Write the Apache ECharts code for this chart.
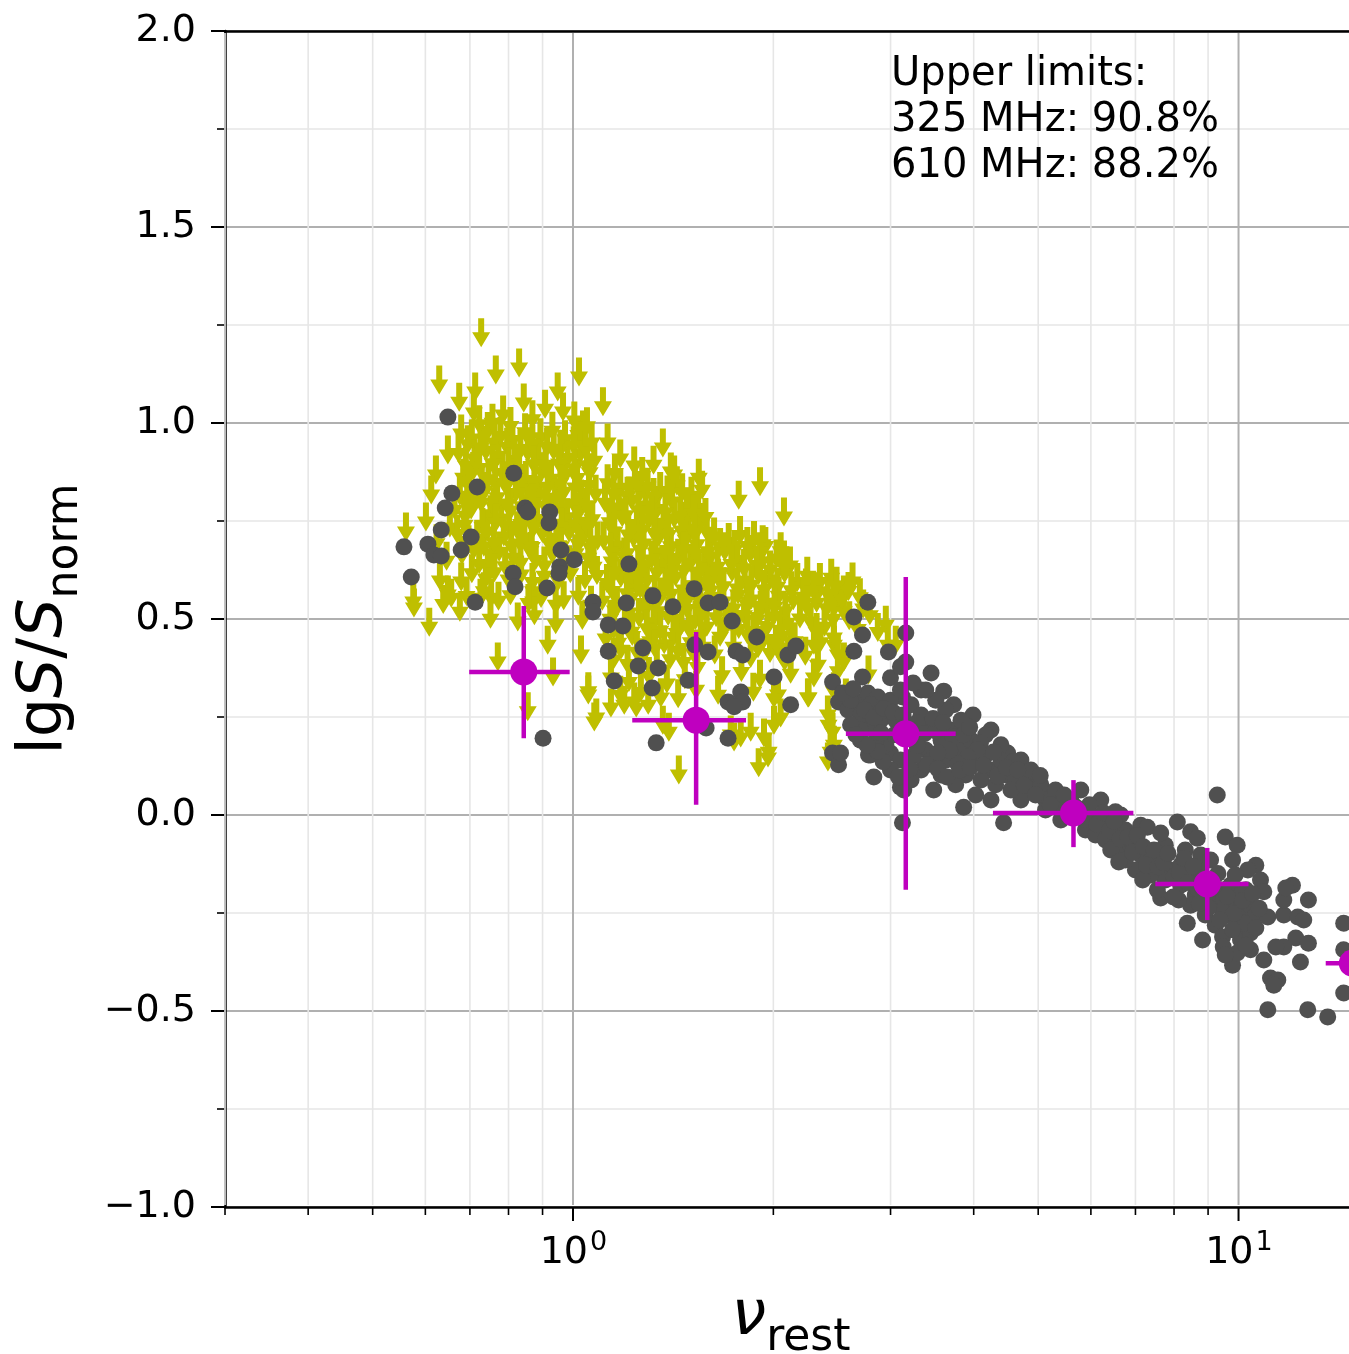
<!DOCTYPE html>
<html>
<head>
<meta charset="utf-8">
<script src="https://cdn.jsdelivr.net/npm/echarts@6/dist/echarts.min.js"></script>
<style>
html, body { margin: 0; padding: 0; background: #fff; }
#chart { width: 1349px; height: 1354px; }
</style>
</head>
<body>
<div id="chart"></div>
<script>
// x = lg(nu_rest), y = lg(S/S_norm)

// Upper limits (non-detections), drawn as downward arrows
const upperLimits = [
  [-0.138,1.230],[-0.081,1.153],[-0.116,1.135],[0.009,1.130],[-0.201,1.110],[-0.147,1.092],[-0.171,1.066],[-0.074,1.064],
  [-0.023,1.092],[0.045,1.054],[-0.105,1.033],[-0.015,1.041],[-0.149,1.038],[0.015,0.995],[0.135,0.949],[-0.188,0.931],
  [-0.206,0.880],[-0.213,0.829],[0.152,0.880],[-0.251,0.735],[-0.221,0.760],[-0.240,0.556],[-0.216,0.492],[-0.188,0.574],
  [-0.183,0.566],[-0.168,0.607],[0.147,0.888],[0.152,0.855],[0.189,0.872],[0.281,0.850],[0.249,0.816],[0.317,0.773],
  [0.167,0.753],[0.285,0.702],[0.312,0.684],[0.420,0.607],[0.350,0.592],[0.369,0.582],[0.395,0.548],[0.470,0.497],
  [0.159,0.115],[0.279,0.133],[0.293,0.158],[0.384,0.242],[0.032,0.250],[0.023,0.319],[0.057,0.286],[0.077,0.293],
  [0.095,0.286],[0.113,0.293],[0.132,0.311],[0.135,0.242],[0.144,0.224],[0.237,0.217],[0.252,0.209],[0.267,0.224],
  [0.302,0.242],[0.312,0.260],[0.353,0.311],[0.392,0.327],[0.398,0.378],[0.368,0.395],[0.362,0.446],[0.353,0.582],
  [0.392,0.556],[0.407,0.531],[0.473,0.446],[0.485,0.446],[0.392,0.446],[0.407,0.403],[0.362,0.362],[0.354,0.311],
  [0.444,0.370],[0.410,0.311],[0.383,0.268],[0.390,0.224],[0.392,0.191],[0.383,0.148],[-0.239,0.541],[-0.113,0.403],
  [-0.038,0.446],[-0.030,0.365],[-0.068,0.276],[0.012,0.421],[0.023,0.327],[0.035,0.260],[0.092,0.301],[0.317,0.663],
  [0.407,0.574],[0.392,0.464],[0.398,0.421],[0.308,0.319],[0.387,0.173],[0.294,0.173],[0.287,0.209],[0.242,0.199],
  [0.312,0.421],[0.327,0.454],
  [-0.134,0.582],[-0.123,0.566],[-0.060,0.556],[-0.128,0.643],[-0.060,0.582],[-0.026,0.548],
  [-0.205,0.705],[-0.190,0.660],[-0.200,0.610],[-0.185,0.745],[-0.178,0.790],[-0.195,0.550],[-0.160,0.570],[-0.170,0.530],
  [-0.168,0.985],[-0.152,0.972],[-0.128,0.991],[-0.109,0.978],[-0.091,0.968],[-0.072,0.988],[-0.049,0.975],[-0.031,0.992],[-0.012,0.970],[0.008,0.981],[0.028,0.962],
  [-0.172,0.935],[-0.148,0.921],[-0.131,0.940],[-0.112,0.928],[-0.088,0.917],[-0.068,0.936],[-0.052,0.924],[-0.029,0.941],[-0.008,0.922],[0.011,0.933],[0.032,0.915],
  [-0.165,0.872],[-0.150,0.889],[-0.127,0.868],[-0.106,0.884],[-0.093,0.873],[-0.071,0.866],[-0.047,0.887],[-0.033,0.869],[-0.011,0.882],[0.006,0.871],[0.025,0.886],
  [-0.170,0.826],[-0.146,0.818],[-0.133,0.838],[-0.114,0.822],[-0.086,0.833],[-0.069,0.815],[-0.051,0.829],[-0.027,0.821],[-0.014,0.836],[0.012,0.819],[0.034,0.831],
  [-0.162,0.775],[-0.153,0.791],[-0.124,0.779],[-0.108,0.768],[-0.094,0.788],[-0.066,0.772],[-0.054,0.764],[-0.035,0.785],[-0.009,0.771],[0.009,0.786],[0.029,0.766],
  [-0.174,0.728],[-0.144,0.716],[-0.129,0.735],[-0.104,0.722],[-0.084,0.738],[-0.073,0.718],[-0.046,0.731],[-0.025,0.719],[-0.006,0.733],[0.015,0.724],[0.037,0.712],
  [-0.167,0.675],[-0.149,0.689],[-0.122,0.671],[-0.111,0.683],[-0.089,0.668],[-0.064,0.685],[-0.056,0.662],[-0.031,0.678],[-0.013,0.664],[0.004,0.679],[0.023,0.668],
  [-0.152,0.628],[-0.131,0.615],[-0.118,0.631],[-0.097,0.612],[-0.078,0.625],[-0.061,0.606],[-0.043,0.622],[-0.022,0.609],[-0.004,0.628],[0.018,0.611],[0.036,0.624],
  [-0.139,0.566],[-0.112,0.558],[-0.094,0.572],[-0.067,0.552],[-0.048,0.565],[-0.014,0.559],[0.008,0.571],[0.027,0.548],
  [-0.124,0.512],[-0.083,0.505],[-0.058,0.521],[-0.026,0.498],[0.014,0.509],
  [-0.158,0.957],[-0.139,0.949],[-0.118,0.962],[-0.099,0.951],[-0.079,0.945],[-0.061,0.958],[-0.039,0.951],[-0.019,0.946],[0.001,0.955],[0.019,0.944],
  [-0.161,0.903],[-0.141,0.897],[-0.121,0.909],[-0.097,0.901],[-0.081,0.894],[-0.059,0.906],[-0.041,0.898],[-0.021,0.908],[0.002,0.896],[0.021,0.904],
  [-0.156,0.852],[-0.137,0.846],[-0.117,0.859],[-0.101,0.851],[-0.078,0.845],[-0.058,0.856],[-0.038,0.849],[-0.019,0.858],[0.003,0.847],[0.024,0.853],
  [-0.159,0.802],[-0.138,0.808],[-0.119,0.797],[-0.098,0.806],[-0.077,0.799],[-0.061,0.809],[-0.042,0.801],[-0.018,0.795],[0.001,0.806],[0.021,0.798],
  [-0.163,0.752],[-0.136,0.746],[-0.116,0.758],[-0.096,0.749],[-0.078,0.754],[-0.059,0.745],[-0.041,0.757],[-0.017,0.748],[0.004,0.753],[0.022,0.744],
  [-0.157,0.702],[-0.134,0.696],[-0.119,0.707],[-0.093,0.699],[-0.079,0.704],[-0.062,0.695],[-0.036,0.706],[-0.018,0.697],[0.008,0.703],[0.026,0.694],
  [-0.141,0.652],[-0.102,0.646],[-0.079,0.655],[-0.043,0.648],[-0.006,0.651],[0.031,0.645],
  [0.052,0.858],[0.071,0.846],[0.093,0.862],[0.112,0.849],[0.131,0.838],[0.156,0.852],[0.178,0.826],[0.194,0.841],
  [0.048,0.808],[0.069,0.796],[0.088,0.815],[0.109,0.801],[0.127,0.792],[0.149,0.811],[0.171,0.798],[0.188,0.786],
  [0.055,0.758],[0.074,0.771],[0.096,0.752],[0.114,0.764],[0.136,0.749],[0.152,0.768],[0.174,0.742],[0.192,0.759],
  [0.046,0.712],[0.067,0.699],[0.091,0.718],[0.106,0.704],[0.129,0.721],[0.147,0.697],[0.169,0.714],[0.186,0.702],
  [0.058,0.658],[0.077,0.671],[0.098,0.649],[0.118,0.663],[0.134,0.652],[0.158,0.668],[0.176,0.655],[0.197,0.647],
  [0.051,0.603],[0.072,0.617],[0.094,0.598],[0.111,0.611],[0.139,0.602],[0.154,0.619],[0.181,0.597],[0.199,0.608],
  [0.044,0.558],[0.066,0.547],[0.087,0.565],[0.108,0.552],[0.132,0.569],[0.161,0.548],[0.172,0.562],[0.191,0.555],
  [0.056,0.512],[0.078,0.498],[0.099,0.515],[0.121,0.503],[0.143,0.519],[0.163,0.496],[0.184,0.509],[0.201,0.492],
  [0.049,0.462],[0.068,0.451],[0.089,0.468],[0.116,0.455],[0.137,0.447],[0.151,0.466],[0.177,0.452],[0.195,0.441],
  [0.061,0.408],[0.082,0.397],[0.103,0.414],[0.126,0.391],[0.146,0.409],[0.166,0.402],[0.187,0.389],
  [0.057,0.362],[0.084,0.351],[0.114,0.366],[0.141,0.347],[0.168,0.358],[0.071,0.318],[0.102,0.325],[0.158,0.309],[0.185,0.331],
  [0.061,0.832],[0.082,0.826],[0.102,0.838],[0.121,0.823],[0.142,0.829],[0.164,0.835],
  [0.059,0.782],[0.079,0.776],[0.098,0.789],[0.118,0.778],[0.139,0.784],[0.161,0.775],[0.181,0.781],[0.199,0.772],
  [0.062,0.734],[0.083,0.727],[0.104,0.739],[0.122,0.731],[0.143,0.726],[0.163,0.737],[0.183,0.729],[0.201,0.734],
  [0.057,0.684],[0.081,0.679],[0.101,0.688],[0.124,0.681],[0.141,0.676],[0.166,0.687],[0.184,0.678],[0.203,0.684],
  [0.063,0.633],[0.086,0.627],[0.105,0.638],[0.126,0.631],[0.146,0.626],[0.167,0.637],[0.189,0.629],[0.207,0.634],
  [0.059,0.583],[0.081,0.577],[0.101,0.588],[0.123,0.581],[0.147,0.576],[0.166,0.587],[0.186,0.579],[0.206,0.584],
  [0.063,0.533],[0.084,0.528],[0.109,0.538],[0.127,0.531],[0.149,0.526],[0.171,0.537],[0.194,0.529],
  [0.061,0.484],[0.088,0.479],[0.111,0.488],[0.131,0.481],[0.156,0.476],[0.174,0.487],[0.192,0.472],
  [0.072,0.433],[0.096,0.428],[0.123,0.437],[0.158,0.431],[0.181,0.424],
  [0.212,0.722],[0.234,0.708],[0.251,0.726],[0.272,0.713],[0.289,0.698],
  [0.206,0.671],[0.228,0.684],[0.247,0.662],[0.266,0.677],[0.284,0.659],[0.306,0.666],[0.326,0.648],
  [0.218,0.617],[0.239,0.631],[0.258,0.609],[0.279,0.624],[0.297,0.612],[0.318,0.628],[0.337,0.606],
  [0.209,0.568],[0.226,0.556],[0.248,0.574],[0.268,0.561],[0.291,0.552],[0.309,0.571],[0.331,0.559],
  [0.215,0.516],[0.236,0.505],[0.257,0.521],[0.276,0.509],[0.301,0.518],[0.322,0.502],[0.341,0.513],
  [0.221,0.466],[0.262,0.472],[0.286,0.458],[0.314,0.469],[0.333,0.455],
  [0.213,0.421],[0.267,0.412],[0.296,0.425],[0.318,0.404],
  [0.224,0.368],[0.253,0.376],[0.281,0.359],[0.327,0.372],
  [0.218,0.318],[0.271,0.326],[0.302,0.309],
  [0.221,0.695],[0.243,0.689],[0.262,0.698],[0.281,0.684],
  [0.217,0.645],[0.238,0.652],[0.257,0.641],[0.276,0.649],[0.296,0.638],[0.317,0.645],
  [0.226,0.595],[0.247,0.589],[0.268,0.599],[0.287,0.587],[0.307,0.594],[0.328,0.585],
  [0.221,0.545],[0.241,0.538],[0.262,0.547],[0.282,0.535],[0.303,0.543],[0.319,0.531],
  [0.229,0.492],[0.249,0.486],[0.271,0.481],[0.292,0.492],[0.311,0.484],
  [0.241,0.441],[0.278,0.437],[0.305,0.446],
  [0.352,0.622],[0.371,0.606],[0.388,0.617],[0.346,0.568],[0.366,0.553],[0.381,0.539],[0.404,0.561],[0.357,0.505],
  [0.378,0.492],[0.415,0.508],[0.428,0.486],[0.446,0.521],[0.458,0.478],[0.372,0.452],[0.349,0.418],
  [0.361,0.585],[0.383,0.575],[0.396,0.596],[0.414,0.583],[0.431,0.567],[0.352,0.541],[0.391,0.512],[0.366,0.478],[0.436,0.538],
  [0.052,0.962],[0.071,0.921],[0.092,0.903],[0.063,0.884],[0.104,0.876],[0.121,0.905],[-0.061,1.021],[-0.042,1.048],
  [0.002,1.018],[0.021,1.003],[-0.094,1.004],[-0.121,1.012],[-0.141,1.008]
];

// Detections, drawn as grey dots
const detections = [
  [-0.188,1.015],[-0.089,0.872],[-0.144,0.837],[-0.182,0.821],[-0.192,0.783],[-0.072,0.783],[-0.068,0.773],[-0.035,0.773],
  [-0.036,0.745],[-0.198,0.727],[-0.153,0.709],[-0.254,0.684],[-0.218,0.691],[-0.209,0.663],[-0.198,0.661],[-0.168,0.676],
  [-0.018,0.676],[0.002,0.651],[-0.020,0.633],[-0.021,0.617],[-0.243,0.607],[-0.090,0.617],[-0.087,0.582],[-0.039,0.579],
  [0.084,0.640],[-0.147,0.543],[0.030,0.543],[0.030,0.518],[0.080,0.541],[0.120,0.559],[0.150,0.531],[0.053,0.485],
  [0.075,0.482],[0.182,0.577],[0.203,0.541],[0.221,0.543],[0.239,0.495],[0.053,0.418],[0.105,0.426],[0.098,0.380],
  [0.128,0.375],[0.062,0.342],[0.119,0.324],[0.183,0.434],[0.203,0.416],[0.245,0.418],[0.255,0.408],[0.276,0.454],
  [0.173,0.344],[0.302,0.352],[0.323,0.408],[0.335,0.431],[0.233,0.288],[0.252,0.314],[0.255,0.288],[0.242,0.276],
  [0.327,0.281],[0.125,0.184],[0.233,0.196],[0.200,0.222],[-0.045,0.196],
  [0.390,0.339],[0.422,0.505],[0.443,0.543],[0.435,0.459],[0.422,0.418],[0.474,0.416],[0.500,0.464],[0.500,0.390],
  [0.435,0.352],[0.477,0.350],[0.538,0.362],[0.557,0.316],[0.523,0.319],[0.399,0.288],[0.413,0.268],[0.428,0.288],
  [0.443,0.311],[0.458,0.301],[0.432,0.242],[0.447,0.222],[0.462,0.242],[0.432,0.191],[0.447,0.153],[0.452,0.097],
  [0.477,0.158],[0.492,0.071],[0.495,0.301],[0.492,0.378],[0.390,0.158],[0.399,0.128],[0.402,0.158],[0.572,0.281],
  [0.601,0.255],[0.628,0.217],[0.653,0.158],[0.673,0.140],[0.692,0.097],[0.718,0.056],[0.733,0.038],[0.444,0.153],
  [0.497,0.064],[0.495,-0.020],[0.587,0.020],[0.647,-0.020],[0.542,0.064],
  [0.417,0.293],[0.432,0.255],[0.447,0.281],[0.462,0.263],[0.477,0.293],[0.485,0.242],[0.508,0.281],[0.523,0.255],
  [0.538,0.230],[0.515,0.191],[0.530,0.166],[0.553,0.191],[0.568,0.217],[0.560,0.140],[0.583,0.166],[0.598,0.191],
  [0.605,0.140],[0.620,0.153],[0.628,0.115],[0.613,0.089],[0.590,0.102],[0.575,0.077],[0.553,0.102],[0.538,0.140],
  [0.523,0.115],[0.492,0.140],[0.470,0.179],[0.455,0.191],[0.432,0.217],[0.417,0.230],[0.477,0.115],[0.508,0.089],
  [0.643,0.140],[0.650,0.102],[0.665,0.089],[0.680,0.102],[0.688,0.064],[0.703,0.077],[0.710,0.038],[0.725,0.064],
  [0.733,0.026],[0.748,0.038],[0.763,0.013],[0.778,0.000],[0.793,-0.013],[0.770,-0.038],[0.785,-0.051],[0.800,-0.064],
  [0.815,-0.051],[0.823,-0.089],[0.838,-0.077],[0.853,-0.102],[0.868,-0.115],[0.883,-0.102],[0.898,-0.140],[0.913,-0.128],
  [0.928,-0.153],[0.943,-0.140],[0.958,-0.166],[0.973,-0.191],[0.988,-0.179],[0.995,-0.217],[1.011,-0.242],[0.980,-0.230],
  [0.965,-0.217],[0.935,-0.204],[0.913,-0.179],[0.890,-0.166],[0.868,-0.153],[0.845,-0.140],[0.830,-0.115],[0.808,-0.089],
  [0.748,0.000],[0.733,-0.013],[0.710,0.013],[0.673,0.038],[0.658,0.064],[0.635,0.077],[0.628,0.038],[0.605,0.051],
  [0.688,0.115],[0.661,0.135],[0.643,0.179],[0.620,0.204],[0.583,0.242],[0.560,0.268],[0.545,0.293],[0.530,0.319],
  [0.511,0.337],[0.492,0.319],[0.763,0.064],[0.793,0.038],[0.823,0.000],[0.853,-0.026],[0.830,-0.038],[0.808,-0.018],
  [0.890,-0.077],[0.920,-0.089],[0.943,-0.102],[0.958,-0.115],[1.011,-0.191],[1.018,-0.230],[1.026,-0.255],[0.965,-0.281],
  [0.985,-0.255],[1.003,-0.281],[0.950,-0.255],[0.928,-0.230],[0.910,-0.217],[0.883,-0.212],[1.003,-0.319],[1.018,-0.344],
  [0.968,0.051],[0.908,-0.018],[0.815,0.008],[0.863,-0.031],[0.883,-0.046],[0.928,-0.043],[0.938,-0.059],[0.980,-0.056],
  [0.998,-0.077],[0.820,-0.120],[0.856,-0.166],[0.878,-0.191],[0.902,-0.209],[0.923,-0.276],[0.946,-0.319],[0.976,-0.311],
  [0.977,-0.337],[0.991,-0.383],[0.998,-0.352],[1.014,-0.286],[1.026,-0.128],[1.033,-0.166],[1.038,-0.196],[0.991,-0.115],
  [1.014,-0.140],[1.044,-0.260],[1.068,-0.255],[1.089,-0.260],[1.098,-0.268],[1.068,-0.217],[1.081,-0.179],[1.105,-0.217],
  [1.038,-0.370],[1.048,-0.416],[1.059,-0.421],[1.053,-0.434],[1.086,-0.314],[1.105,-0.327],[1.093,-0.375],[1.068,-0.337],
  [1.018,-0.301],[1.044,-0.497],[1.104,-0.497],[1.134,-0.515],[1.158,-0.276],[1.158,-0.344],[1.158,-0.454],[1.071,-0.186],
  [1.008,-0.276],[1.026,-0.288],[1.056,-0.337],[0.995,-0.153],[1.003,-0.204],[0.991,-0.293],[1.011,-0.332],[0.980,-0.357],
  [0.405,0.311],[0.421,0.322],[0.438,0.268],[0.452,0.249],[0.467,0.272],[0.481,0.262],[0.496,0.255],[0.501,0.228],
  [0.517,0.236],[0.528,0.207],[0.545,0.214],[0.541,0.246],[0.556,0.236],[0.571,0.199],[0.587,0.205],[0.596,0.224],
  [0.612,0.183],[0.607,0.166],[0.593,0.148],[0.578,0.131],[0.566,0.165],[0.548,0.158],[0.531,0.128],[0.512,0.151],
  [0.506,0.118],[0.489,0.097],[0.466,0.136],[0.458,0.162],[0.442,0.178],[0.425,0.205],[0.483,0.205],[0.463,0.209],
  [0.517,0.177],[0.548,0.118],[0.562,0.097],[0.581,0.115],[0.597,0.121],[0.617,0.127],[0.632,0.161],[0.638,0.099],
  [0.651,0.121],[0.668,0.115],[0.678,0.076],[0.695,0.051],[0.702,0.101],[0.717,0.026],[0.738,0.051],
  [0.755,0.021],[0.768,-0.011],[0.776,0.026],[0.787,-0.024],[0.797,0.006],[0.806,-0.041],[0.813,-0.016],[0.822,-0.061],
  [0.834,-0.056],[0.841,-0.095],[0.848,-0.052],[0.857,-0.081],[0.862,-0.128],[0.873,-0.089],[0.879,-0.132],[0.887,-0.121],
  [0.894,-0.098],[0.903,-0.158],[0.911,-0.146],[0.918,-0.111],[0.924,-0.172],[0.932,-0.131],[0.939,-0.188],[0.948,-0.161],
  [0.953,-0.206],[0.962,-0.186],[0.969,-0.149],[0.976,-0.244],[0.983,-0.207],[0.993,-0.251],[1.006,-0.218],[1.021,-0.201],
  [0.972,-0.268],[0.955,-0.236],[0.941,-0.226],[1.031,-0.238]
];

// Binned means with bin widths and scatter
const binCentres = [-0.074, 0.185, 0.500, 0.752, 0.953, 1.171];
const binMeans   = [0.365, 0.242, 0.207, 0.005, -0.176, -0.378];
const binLeft    = [-0.156, 0.089, 0.410, 0.631, 0.875, 1.131];
const binRight   = [-0.005, 0.260, 0.575, 0.842, 1.015, 1.211];
const binLow     = [0.196, 0.026, -0.191, -0.082, -0.268, -0.470];
const binHigh    = [0.533, 0.467, 0.607, 0.089, -0.084, -0.290];

// Log-axis ticks in nu_rest
const majorNu = [1, 10];
const minorNu = [0.3, 0.4, 0.5, 0.6, 0.7, 0.8, 0.9, 2, 3, 4, 5, 6, 7, 8, 9];

const notes = ['Upper limits:', '325 MHz: 90.8%', '610 MHz: 88.2%'];

const FONT = 'DejaVu Sans';
const YELLOW = '#bfbf00';
const GREY = '#505050';
const MAGENTA = '#bf00bf';
const ARROW = 'path://M6,0 L12,0 L12,14 L18,14 L9,29 L0,14 L6,14 Z';

const tickRows = minorNu.map(v => [Math.log10(v), 0])
  .concat(majorNu.map(v => [Math.log10(v), 1]));
const binRows = binCentres.map((x, i) => [x, binMeans[i], binLeft[i], binRight[i], binLow[i], binHigh[i]]);

const chart = echarts.init(document.getElementById('chart'), null, { renderer: 'canvas' });

chart.setOption({
  animation: false,
  backgroundColor: '#fff',
  grid: { left: 225, top: 31, bottom: 147, right: -8, containLabel: false, outerBoundsMode: 'none' },
  xAxis: [{
    type: 'value',
    min: -0.5229,
    max: 1.178,
    axisLine: { show: true, onZero: false, lineStyle: { color: '#000', width: 2.5 } },
    axisTick: { show: false },
    axisLabel: { show: false },
    splitLine: { show: false },
    name: '{g|ν}{s|rest}',
    nameLocation: 'middle',
    nameGap: 68,
    nameTextStyle: {
      rich: {
        g: { fontFamily: FONT, fontSize: 62, fontStyle: 'italic', lineHeight: 86, color: '#000' },
        s: { fontFamily: FONT, fontSize: 44, lineHeight: 86, verticalAlign: 'bottom', color: '#000' }
      }
    }
  }, {
    type: 'value',
    position: 'top',
    min: -0.5229,
    max: 1.178,
    axisLine: { show: true, onZero: false, lineStyle: { color: '#000', width: 2.5 } },
    axisTick: { show: false },
    axisLabel: { show: false },
    splitLine: { show: false }
  }],
  yAxis: {
    type: 'value',
    min: -1,
    max: 2,
    interval: 0.5,
    axisLine: { show: true, onZero: false, lineStyle: { color: '#000', width: 2.5 } },
    axisTick: { show: true, length: 14, lineStyle: { color: '#000', width: 2 } },
    minorTick: { show: true, splitNumber: 2, length: 8, lineStyle: { color: '#000', width: 1.6 } },
    splitLine: { show: true, lineStyle: { color: '#b0b0b0', width: 2 } },
    minorSplitLine: { show: true, lineStyle: { color: '#e6e6e6', width: 1.6 } },
    axisLabel: {
      color: '#000', fontFamily: FONT, fontSize: 38, margin: 29,
      formatter: v => (v < 0 ? '\u2212' : '') + Math.abs(v).toFixed(1)
    },
    name: '{n|lg}{i|S}{n|/}{i|S}{s|norm}',
    nameLocation: 'middle',
    nameRotate: 90,
    nameGap: 137,
    nameTextStyle: {
      rich: {
        n: { fontFamily: FONT, fontSize: 62, lineHeight: 86, color: '#000' },
        i: { fontFamily: FONT, fontSize: 62, fontStyle: 'italic', lineHeight: 86, color: '#000' },
        s: { fontFamily: FONT, fontSize: 44, lineHeight: 86, verticalAlign: 'bottom', color: '#000' }
      }
    }
  },
  graphic: [{
    type: 'text',
    left: 891,
    top: 52,
    z: 10,
    style: { text: notes.join('\n'), fontFamily: FONT, fontSize: 40, lineHeight: 46, fill: '#000' }
  }],
  series: [
    {
      // log-axis grid lines, ticks and decade labels
      type: 'custom',
      z: 1,
      silent: true,
      data: tickRows,
      renderItem: (params, api) => {
        const v = api.value(0);
        const major = api.value(1) === 1;
        const top = api.coord([v, 2]);
        const bot = api.coord([v, -1]);
        const children = [
          { type: 'line', shape: { x1: top[0], y1: top[1] + 2, x2: bot[0], y2: bot[1] - 2 },
            style: { stroke: major ? '#b0b0b0' : '#e6e6e6', lineWidth: major ? 2 : 1.6 } },
          { type: 'line', shape: { x1: bot[0], y1: bot[1], x2: bot[0], y2: bot[1] + (major ? 14 : 8) },
            style: { stroke: '#000', lineWidth: major ? 2 : 1.6 } }
        ];
        if (major) {
          children.push({ type: 'text', x: bot[0] + 15, y: bot[1] + 27,
            style: { text: '10', fontFamily: FONT, fontSize: 38, fill: '#000', align: 'right', verticalAlign: 'top' } });
          children.push({ type: 'text', x: bot[0] + 17, y: bot[1] + 22,
            style: { text: String(Math.round(v)), fontFamily: FONT, fontSize: 27, fill: '#000', align: 'left', verticalAlign: 'top' } });
        }
        return { type: 'group', children };
      }
    },
    {
      type: 'scatter',
      z: 2,
      data: upperLimits,
      symbol: ARROW,
      symbolSize: [18, 29],
      itemStyle: { color: YELLOW, opacity: 1 }
    },
    {
      type: 'scatter',
      z: 3,
      data: detections,
      symbol: 'circle',
      symbolSize: 17,
      itemStyle: { color: GREY, opacity: 1 }
    },
    {
      type: 'custom',
      z: 4,
      data: binRows,
      renderItem: (params, api) => {
        const y = api.value(1);
        const l = api.coord([api.value(2), y]);
        const r = api.coord([api.value(3), y]);
        const lo = api.coord([api.value(0), api.value(4)]);
        const hi = api.coord([api.value(0), api.value(5)]);
        return { type: 'group', children: [
          { type: 'line', shape: { x1: l[0], y1: l[1], x2: r[0], y2: r[1] }, style: { stroke: MAGENTA, lineWidth: 4.5 } },
          { type: 'line', shape: { x1: lo[0], y1: lo[1], x2: hi[0], y2: hi[1] }, style: { stroke: MAGENTA, lineWidth: 4.5 } }
        ] };
      }
    },
    {
      type: 'scatter',
      z: 5,
      data: binCentres.map((x, i) => [x, binMeans[i]]),
      symbol: 'circle',
      symbolSize: 27,
      itemStyle: { color: MAGENTA, opacity: 1 }
    }
  ]
});
</script>
</body>
</html>
